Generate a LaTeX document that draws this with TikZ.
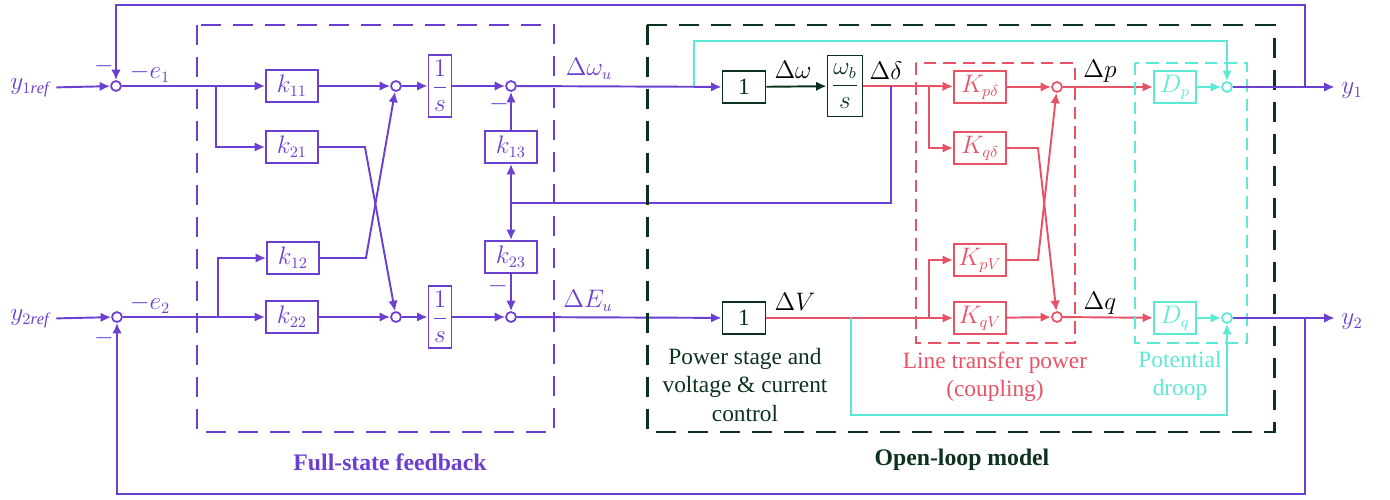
\documentclass[tikz,border=0pt]{standalone}
\usepackage{fontspec}
\setmainfont{Liberation Serif}
\usetikzlibrary{arrows.meta}
\definecolor{fsfb}{RGB}{107,63,208}
\definecolor{olm}{RGB}{12,50,30}
\definecolor{ltp}{RGB}{232,82,102}
\definecolor{pdr}{RGB}{92,234,212}
\begin{document}
\begin{tikzpicture}[x=0.02cm, y=-0.02cm, line width=1.1pt,
    font=\fontsize{13.3}{16}\selectfont,
    >={Latex[length=2.1mm,width=1.9mm]},
    blk/.style={draw, minimum width=1.04cm, minimum height=0.64cm, inner sep=0pt},
    intg/.style={draw, minimum width=0.46cm, minimum height=1.24cm, inner sep=0pt},
    sumc/.style={draw, circle, fill=white, minimum size=0.2cm, inner sep=0pt, line width=1pt},
    minus/.style={inner sep=0pt},
    bigbox/.style={line width=1.7pt, dash pattern=on 0.4cm off 0.24cm},
    smallbox/.style={line width=1.1pt, dash pattern=on 0.25cm off 0.14cm}]
    \useasboundingbox (0,0) rectangle (1390,500);

    % Full-state feedback
    \begin{scope}[fsfb]
    \node (r1) at (30,88) {$y_{1\mathit{ref}}$};
    \node (r2) at (30,319) {$y_{2\mathit{ref}}$};
    \node[sumc] (s1) at (116,86) {};
    \node[sumc] (s2) at (117,317) {};
    \node[minus] (m1) at (104,66) {$-$};
    \node[minus] (m2) at (104,338) {$-$};
    \node (e1) at (150,73) {$-e_1$};
    \node (e2) at (150,304) {$-e_2$};
    \coordinate (b1) at (216,86);
    \coordinate (b2) at (218,317);
    \node[blk] (k11) at (292,86) {$k_{11}$};
    \node[blk] (k21) at (292,147) {$k_{21}$};
    \node[blk] (k12) at (293,258) {$k_{12}$};
    \node[blk] (k22) at (292,317) {$k_{22}$};
    \node[sumc] (s3) at (396,86) {};
    \node[sumc] (s4) at (396,317) {};
    \node[intg] (i1) at (440,86) {$\displaystyle\frac{1}{s}$};
    \node[intg] (i2) at (440,317) {$\displaystyle\frac{1}{s}$};
    \node[sumc] (s5) at (511,86) {};
    \node[sumc] (s6) at (511,317) {};
    \node[blk] (k13) at (511,147) {$k_{13}$};
    \node[blk] (k23) at (511,257) {$k_{23}$};
    \coordinate (j3) at (511,203);
    \node[minus] (m3) at (499,104) {$-$};
    \node[minus] (m4) at (498,286) {$-$};
    \node (wu) at (589,69) {$\Delta\omega_u$};
    \node (eu) at (588,301) {$\Delta E_u$};

    \draw[->] (r1) -- (s1);
    \draw[->] (r2) -- (s2);
    \draw (s1) -- (b1);
    \draw[->] (b1) -- (k11);
    \draw[->] (b1) |- (k21);
    \draw (s2) -- (b2);
    \draw[->] (b2) -- (k22);
    \draw[->] (b2) |- (k12);
    \draw[->] (k11) -- (s3);
    \draw[->] (k22) -- (s4);
    \draw[->] (k21.east) -- ++(46,0) -- (s4);
    \draw[->] (k12.east) -- ++(46,0) -- (s3);
    \draw[->] (s3) -- (i1);
    \draw[->] (s4) -- (i2);
    \draw[->] (i1) -- (s5);
    \draw[->] (i2) -- (s6);
    \draw[->] (j3) -- (k13);
    \draw[->] (j3) -- (k23);
    \draw[->] (k13) -- (s5);
    \draw[->] (k23) -- (s6);
    \draw[bigbox] (197,25) rectangle (554,432);
    \node[font=\fontsize{13.5}{16}\selectfont\bfseries] (fl) at (390,462) {Full-state feedback};
    \end{scope}

    % Open-loop model
    \node[blk, olm, minimum width=0.86cm] (o1) at (744,87) {1};
    \node[blk, olm, minimum width=0.86cm] (o2) at (744,318) {1};
    \node[intg, olm, minimum width=0.7cm, minimum height=1.22cm] (wb) at (845,86) {$\displaystyle\frac{\omega_b}{s}$};
    \node (dw) at (793,70) {$\Delta\omega$};
    \node (dv) at (795,302) {$\Delta V$};
    \node (dd) at (886,71) {$\Delta\delta$};
    \node (dp) at (1100,71) {$\Delta p$};
    \node (dq) at (1100,303) {$\Delta q$};
    \node[olm, align=center] (ps) at (745,385) {Power stage and\\voltage \& current\\control};
    \draw[fsfb, ->] (s5) -- (o1);
    \draw[fsfb, ->] (s6) -- (o2);
    \draw[olm, ->] (o1) -- (wb);

    % Line transfer power
    \begin{scope}[ltp]
    \coordinate (d1) at (891,86);
    \coordinate (c1) at (929,86);
    \coordinate (c2) at (929,318);
    \coordinate (c4) at (851,318);
    \node[blk] (kpd) at (980,87) {$K_{p\delta}$};
    \node[blk] (kqd) at (980,148) {$K_{q\delta}$};
    \node[blk] (kpv) at (980,260) {$K_{pV}$};
    \node[blk] (kqv) at (980,318) {$K_{qV}$};
    \node[sumc] (s7) at (1057,87) {};
    \node[sumc] (s8) at (1057,317) {};
    \draw (wb) -- (c1);
    \draw[->] (c1) -- (kpd);
    \draw[->] (c1) |- (kqd);
    \draw (o2) -- (c2);
    \draw[->] (c2) -- (kqv);
    \draw[->] (c2) |- (kpv);
    \draw[->] (kpd) -- (s7);
    \draw[->] (kqv) -- (s8);
    \draw[->] (kqd.east) -- ++(31,0) -- (s8);
    \draw[->] (kpv.east) -- ++(31,0) -- (s7);
    \draw[smallbox] (916,63) rectangle (1075,343);
    \node[align=center] (lt) at (995,377) {Line transfer power\\(coupling)};
    \end{scope}
    \draw[fsfb] (d1) |- (j3);

    % Potential droop
    \begin{scope}[pdr]
    \node[blk, minimum width=0.84cm] (Dp) at (1175,87) {$D_p$};
    \node[blk, minimum width=0.84cm] (Dq) at (1175,318) {$D_q$};
    \node[sumc] (s9) at (1227,87) {};
    \node[sumc] (s10) at (1227,318) {};
    \coordinate (c3) at (694,86);
    \draw[ltp, ->] (s7) -- (Dp);
    \draw[ltp, ->] (s8) -- (Dq);
    \draw[->] (Dp) -- (s9);
    \draw[->] (Dq) -- (s10);
    \draw[->] (c3) -- (c3 |- 0,41) -| (s9);
    \draw[->] (c4) -- (c4 |- 0,415) -| (s10);
    \draw[smallbox] (1135,63) rectangle (1247,343);
    \node[align=center] (pd) at (1180,376) {Potential\\droop};
    \end{scope}

    \draw[olm, bigbox] (647,25) rectangle (1274,432);
    \node[olm, font=\fontsize{13.5}{16}\selectfont\bfseries] (ol) at (962,460) {Open-loop model};

    % outputs and feedback
    \begin{scope}[fsfb]
    \coordinate (j1) at (1305,87);
    \coordinate (j2) at (1305,318);
    \node (y1) at (1352,91) {$y_1$};
    \node (y2) at (1352,322) {$y_2$};
    \draw (s9) -- (j1);
    \draw[->] (j1) -- (y1.west |- j1);
    \draw (s10) -- (j2);
    \draw[->] (j2) -- (y2.west |- j2);
    \draw[->] (j1) -- (j1 |- 0,5) -| (s1);
    \draw[->] (j2) -- (j2 |- 0,494) -| (s2);
    \end{scope}
\end{tikzpicture}
\end{document}
